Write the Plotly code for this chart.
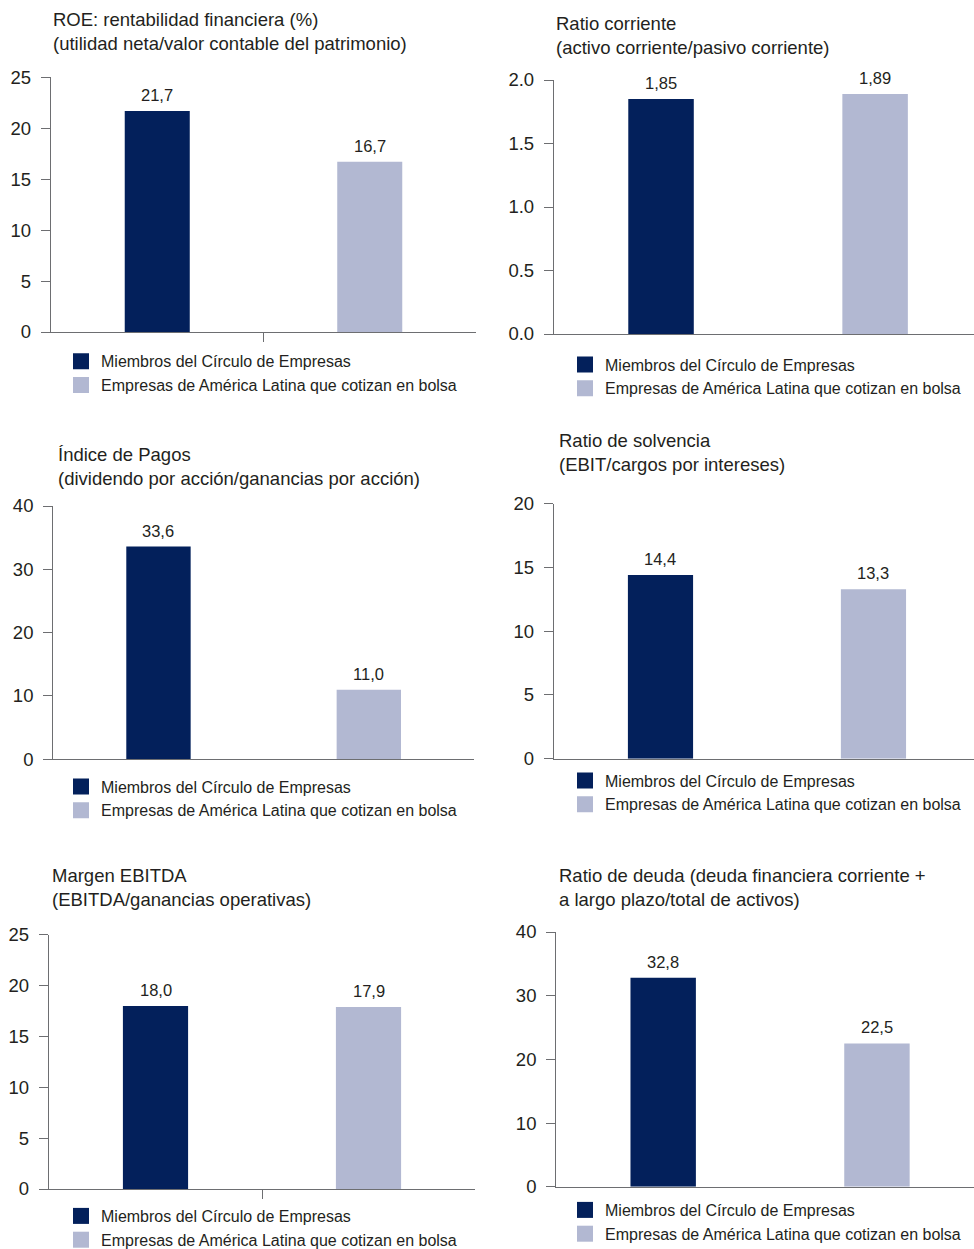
import plotly.graph_objects as go

# ---------------- data ----------------
series_names = ["Miembros del Círculo de Empresas",
                "Empresas de América Latina que cotizan en bolsa"]
category = ["Empresas"]

titles = [
    "ROE: rentabilidad financiera (%)<br>(utilidad neta/valor contable del patrimonio)",
    "Ratio corriente<br>(activo corriente/pasivo corriente)",
    "Índice de Pagos<br>(dividendo por acción/ganancias por acción)",
    "Ratio de solvencia<br>(EBIT/cargos por intereses)",
    "Margen EBITDA<br>(EBITDA/ganancias operativas)",
    "Ratio de deuda (deuda financiera corriente +<br>a largo plazo/total de activos)",
]
roe = [21.7, 16.7]
ratio_corriente = [1.85, 1.89]
indice_pagos = [33.6, 11.0]
solvencia = [14.4, 13.3]
ebitda = [18.0, 17.9]
deuda = [32.8, 22.5]
panel_values = [roe, ratio_corriente, indice_pagos, solvencia, ebitda, deuda]
label_decimals = [1, 2, 1, 1, 1, 1]

y_tick_values = [
    [0, 5, 10, 15, 20, 25],
    [0.0, 0.5, 1.0, 1.5, 2.0],
    [0, 10, 20, 30, 40],
    [0, 5, 10, 15, 20],
    [0, 5, 10, 15, 20, 25],
    [0, 10, 20, 30, 40],
]
y_tick_formats = ["d", ".1f", "d", "d", "d", "d"]

# ---------------- styling / layout geometry (pixels) ----------------
W, H = 974, 1249
colors = ["#03205b", "#b2b8d2"]
FONT = "Liberation Sans, Arial, Helvetica, sans-serif"
TXT = "#231f20"
AXC = "#6d6e71"
BARGAP = 0.0
BARGROUPGAP = 0.694

# x0, x1 (domain px), right end of x range, y_top px, y_zero px, title (x, ymid),
# legend (square centre x, first row centre y), centre tick
geo = [
    dict(x0=51, x1=476, xr=0.5, yt=77.3, yb=332, tx=51, ty=31.2, lx=81, ly=360.8, ctick=True),
    dict(x0=554, x1=974, xr=0.481, yt=80, yb=334, tx=553.7, ty=35.5, lx=585, ly=364, ctick=False),
    dict(x0=53.3, x1=474, xr=0.5, yt=506, yb=759.3, tx=56, ty=466.3, lx=81, ly=786, ctick=False),
    dict(x0=554, x1=974, xr=0.486, yt=503.7, yb=758.7, tx=557, ty=452.5, lx=585, ly=780, ctick=False),
    dict(x0=49, x1=475, xr=0.5, yt=934.7, yb=1189, tx=50, ty=887.5, lx=81, ly=1215.5, ctick=True),
    dict(x0=556.3, x1=974, xr=0.477, yt=932, yb=1186.7, tx=557, ty=887.5, lx=585, ly=1209.5, ctick=False),
]
LEGEND_TOP_PAD = 16.5

fig = go.Figure()
layout = dict(
    width=W, height=H,
    margin=dict(l=0, r=0, t=0, b=0, autoexpand=False),
    paper_bgcolor="white", plot_bgcolor="white",
    font=dict(family=FONT, color=TXT),
    barmode="group", bargap=BARGAP, bargroupgap=BARGROUPGAP,
    annotations=[],
)

for i, (vals, g) in enumerate(zip(panel_values, geo)):
    n = "" if i == 0 else str(i + 1)
    xa, ya = "x" + n, "y" + n
    lg = "legend" + n
    for j, (name, v) in enumerate(zip(series_names, vals)):
        fig.add_trace(go.Bar(
            x=category, y=[v], name=name, xaxis=xa, yaxis=ya,
            marker=dict(color=colors[j], line=dict(width=0)),
            showlegend=False, hoverinfo="skip",
        ))
        # legend entry (square swatch)
        fig.add_trace(go.Scatter(
            x=[None], y=[None], name=name, xaxis=xa, yaxis=ya, mode="markers",
            marker=dict(symbol="square", size=16, color=colors[j]),
            legend=lg, showlegend=True,
        ))
        # value label above each bar
        off = (1 - BARGAP) / 4 * (-1 if j == 0 else 1)
        layout["annotations"].append(dict(
            xref=xa, yref=ya, x=off, y=v,
            text=f"{v:.{label_decimals[i]}f}".replace(".", ","),
            showarrow=False, yanchor="bottom", yshift=5,
            font=dict(size=16.5, color=TXT, family=FONT),
        ))

    top = y_tick_values[i][-1]
    layout["xaxis" + n] = dict(
        domain=[g["x0"] / W, g["x1"] / W], anchor=ya,
        range=[-0.5, g["xr"]], type="category",
        showline=True, linecolor=AXC, linewidth=1.3,
        showgrid=False, zeroline=False, showticklabels=False,
        ticks="outside" if g["ctick"] else "", ticklen=9, tickcolor=AXC, tickwidth=1.3,
        fixedrange=True, automargin=False,
    )
    layout["yaxis" + n] = dict(
        domain=[1 - g["yb"] / H, 1 - g["yt"] / H], anchor=xa,
        range=[0, top], tickvals=y_tick_values[i], tickformat=y_tick_formats[i],
        showline=True, linecolor=AXC, linewidth=1.3,
        showgrid=False, zeroline=False,
        ticks="outside", ticklen=9, tickcolor=AXC, tickwidth=1.3,
        tickfont=dict(size=18.5, color=TXT, family=FONT), ticklabelstandoff=6,
        fixedrange=True, automargin=False,
    )
    layout["annotations"].append(dict(
        xref="paper", yref="paper", x=g["tx"] / W, y=1 - g["ty"] / H,
        xanchor="left", yanchor="middle", align="left", showarrow=False,
        text=titles[i], font=dict(size=18.5, color=TXT, family=FONT),
    ))
    layout[lg] = dict(
        xref="container", yref="container",
        x=(g["lx"] - 20) / W, y=1 - (g["ly"] - LEGEND_TOP_PAD) / H,
        xanchor="left", yanchor="top", orientation="v",
        bgcolor="rgba(0,0,0,0)", borderwidth=0,
        font=dict(size=16, color=TXT, family=FONT),
        itemsizing="trace", tracegroupgap=0,
    )

fig.update_layout(**layout)

pin_to_corner = (
    "document.body.style.margin='0';"
    "var gd=document.getElementById('{plot_id}');"
    "gd.style.position='absolute';gd.style.left='0px';gd.style.top='0px';"
)
fig.write_html("out.html", post_script=pin_to_corner,
               config={"displayModeBar": False, "responsive": False})
